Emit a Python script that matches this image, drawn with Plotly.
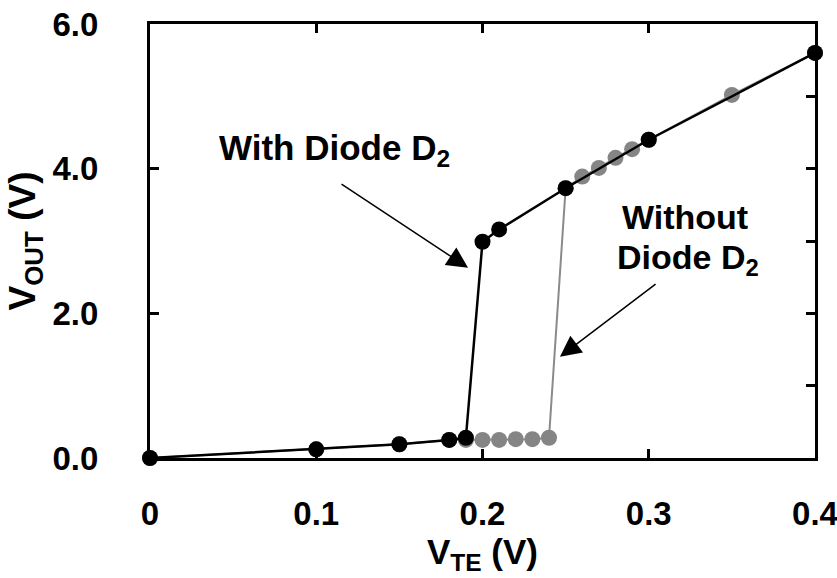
import plotly.graph_objects as go

# With diode D2 (black)
x_with = [0.0, 0.10, 0.15, 0.18, 0.19, 0.20, 0.21, 0.25, 0.30, 0.40]
y_with = [0.0, 0.12, 0.19, 0.25, 0.28, 2.99, 3.16, 3.73, 4.40, 5.60]

# Without diode D2 (gray)
x_without = [0.0, 0.10, 0.15, 0.18, 0.19, 0.20, 0.21, 0.22, 0.23, 0.24, 0.25,
             0.26, 0.27, 0.28, 0.29, 0.30, 0.35, 0.40]
y_without = [0.0, 0.12, 0.19, 0.25, 0.25, 0.25, 0.25, 0.26, 0.26, 0.28, 3.73,
             3.89, 4.01, 4.15, 4.27, 4.40, 5.02, 5.60]

x_ticks = [0, 0.1, 0.2, 0.3, 0.4]
x_ticklabels = ["0", "0.1", "0.2", "0.3", "0.4"]
y_ticks = [0, 2, 4, 6]
y_ticklabels = ["0.0", "2.0", "4.0", "6.0"]

FONT = "Liberation Sans, Arial, sans-serif"

fig = go.Figure()
fig.add_trace(go.Scatter(
    x=x_without, y=y_without, mode="lines+markers",
    line=dict(color="#8a8a8a", width=2),
    marker=dict(color="#858585", size=16),
    cliponaxis=False, showlegend=False))
fig.add_trace(go.Scatter(
    x=x_with, y=y_with, mode="lines+markers",
    line=dict(color="black", width=2.5),
    marker=dict(color="black", size=16),
    cliponaxis=False, showlegend=False))
# invisible trace to activate right-side y axis for ticks
fig.add_trace(go.Scatter(x=[0], y=[0], yaxis="y2", mode="markers",
                         marker=dict(opacity=0), showlegend=False, hoverinfo="skip"))

fig.update_layout(
    width=837, height=578,
    margin=dict(l=150, r=22, t=24, b=120),
    plot_bgcolor="white", paper_bgcolor="white",
    font=dict(family=FONT, size=33, color="black"),
    xaxis=dict(range=[0, 0.4], tickvals=x_ticks, ticktext=["<b>%s</b>" % t for t in x_ticklabels],
               ticks="inside", ticklen=9, tickwidth=2.5, tickcolor="black",
               showline=True, linewidth=3, linecolor="black", mirror="ticks",
               showgrid=False, zeroline=False, ticklabelstandoff=24,
               ticklabeloverflow="allow", automargin=False,
               tickfont=dict(size=33),
               title=dict(text="<b>V<sub>TE</sub> (V)</b>", font=dict(size=35), standoff=8)),
    yaxis=dict(range=[0, 6], tickvals=y_ticks, ticktext=["<b>%s</b>" % t for t in y_ticklabels],
               ticks="inside", ticklen=9, tickwidth=2.5, tickcolor="black",
               showline=True, linewidth=3, linecolor="black", mirror=True,
               showgrid=False, zeroline=False, ticklabelstandoff=42,
               ticklabeloverflow="allow", automargin=False,
               tickfont=dict(size=33),
               title=dict(text="<b>V<sub>OUT</sub> (V)</b>", font=dict(size=37), standoff=6)),
    yaxis2=dict(range=[0, 6], overlaying="y", side="right", dtick=1,
                ticks="inside", ticklen=9, tickwidth=2.5, tickcolor="black",
                showticklabels=False, showgrid=False, zeroline=False, showline=False,
                automargin=False),
)

fig.add_annotation(x=0.1107, y=4.26, xref="x", yref="y", showarrow=False,
                   text="<b>With Diode D<sub>2</sub></b>", font=dict(size=35))
fig.add_annotation(x=0.3218, y=3.33, xref="x", yref="y", showarrow=False,
                   text="<b>Without</b>", font=dict(size=34))
fig.add_annotation(x=0.3236, y=2.74, xref="x", yref="y", showarrow=False,
                   text="<b>Diode D<sub>2</sub></b>", font=dict(size=34))

fig.add_annotation(x=0.1913, y=2.63, xref="x", yref="y",
                   ax=0.1143, ay=3.80, axref="x", ayref="y",
                   text="", showarrow=True, arrowhead=2, arrowsize=2.8,
                   arrowwidth=1.5, arrowcolor="black")
fig.add_annotation(x=0.2466, y=1.40, xref="x", yref="y",
                   ax=0.305, ay=2.42, axref="x", ayref="y",
                   text="", showarrow=True, arrowhead=2, arrowsize=2.8,
                   arrowwidth=1.5, arrowcolor="black")

fig.write_html("out.html")
